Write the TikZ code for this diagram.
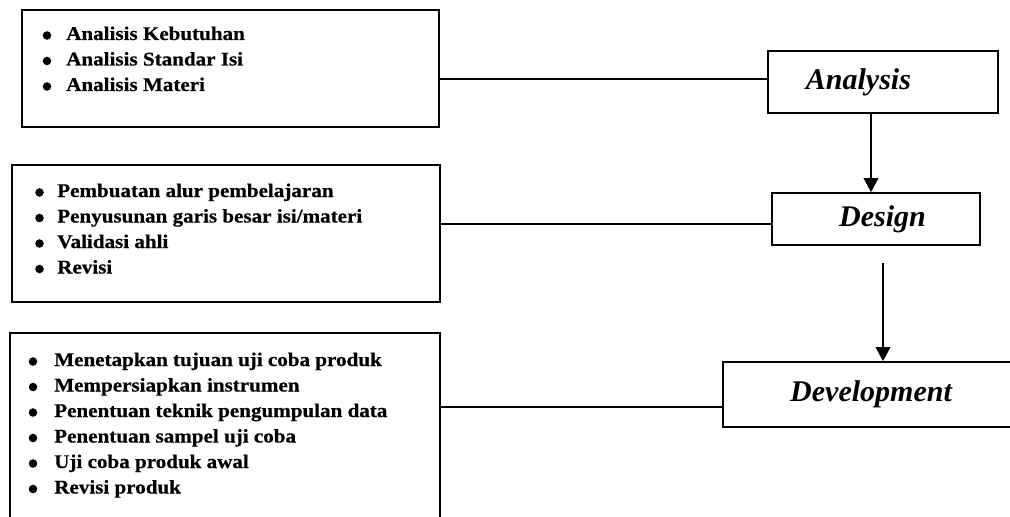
\documentclass[tikz,border=0pt]{standalone}
\usepackage{fontspec}
\setmainfont{Liberation Serif}
\newfontfamily\isifont{Liberation Serif}[FakeStretch=1.09, FakeBold=0.6]
\usetikzlibrary{arrows.meta}
\tikzset{every picture/.append style={x=0.75pt, y=-0.75pt}}
\tikzset{
    kotak/.style={rectangle, draw, line width=1.4pt, inner sep=0pt},
    butir/.style={anchor=base west, inner sep=0pt,
    	font=\isifont\bfseries\fontsize{14.5}{17}\selectfont},
    judul/.style={font=\bfseries\itshape\fontsize{22.5}{27}\selectfont},
    garis/.style={line width=1.4pt},
    panah/.style={-{Triangle[width=11pt, length=10.5pt]}, line width=1.4pt}
}

\begin{document}
\begin{tikzpicture}
  \useasboundingbox (0,0) rectangle (1010,517);

  % kegiatan di kiri
  \node (k_an) [kotak, minimum width=312.75pt, minimum height=87.75pt] at (230.5, 68.5) {};
  \node (k_de) [kotak, minimum width=321pt, minimum height=102.75pt] at (226, 233.5) {};
  \node (k_dv) [kotak, minimum width=322.5pt, minimum height=147.75pt] at (225, 431.5) {};

  \foreach \teks [count=\i] in {Analisis Kebutuhan, Analisis Standar Isi, Analisis Materi}{
    \node (an\i) [butir] at (66, 14.5+25.5*\i) {\teks};
    \fill (47, 10+25.5*\i) circle (3.2pt);
  }
  \foreach \teks [count=\i] in {Pembuatan alur pembelajaran, Penyusunan garis besar isi/materi,
      Validasi ahli, Revisi}{
    \node (de\i) [butir] at (57, 171.5+25.5*\i) {\teks};
    \fill (39.5, 167+25.5*\i) circle (3.2pt);
  }
  \foreach \teks [count=\i] in {Menetapkan tujuan uji coba produk, Mempersiapkan instrumen,
      Penentuan teknik pengumpulan data, Penentuan sampel uji coba, Uji coba produk awal,
      Revisi produk}{
    \node (dv\i) [butir] at (54, 340.5+25.5*\i) {\teks};
    \fill (33, 336+25.5*\i) circle (3.2pt);
  }

  % tahap di kanan
  \node (t_an) [kotak, minimum width=172.5pt, minimum height=46.5pt,
    label={[judul, xshift=-18.4pt]center:Analysis}] at (883, 82) {};
  \node (t_de) [kotak, minimum width=156pt, minimum height=39pt,
    label={[judul, xshift=4.9pt]center:Design}] at (876, 219) {};
  \node (t_dv) [kotak, minimum width=222pt, minimum height=48.75pt,
    label={[judul]center:Development}] at (871, 394.5) {};

  \coordinate (j_an) at ([yshift=2.25pt]t_an.west);
  \coordinate (j_de) at ([yshift=-3.75pt]t_de.west);
  \coordinate (j_dv) at ([yshift=-9.4pt]t_dv.west);
  \coordinate (p1) at ([xshift=-9pt]t_an.south);
  \coordinate (p2) at (883, 263);

  \draw [garis] (j_an) -- (j_an -| k_an.east);
  \draw [garis] (j_de) -- (j_de -| k_de.east);
  \draw [garis] (j_dv) -- (j_dv -| k_dv.east);
  \draw [panah] (p1) -- (p1 |- t_de.north);
  \draw [panah] (p2) -- (p2 |- t_dv.north);
\end{tikzpicture}
\end{document}
